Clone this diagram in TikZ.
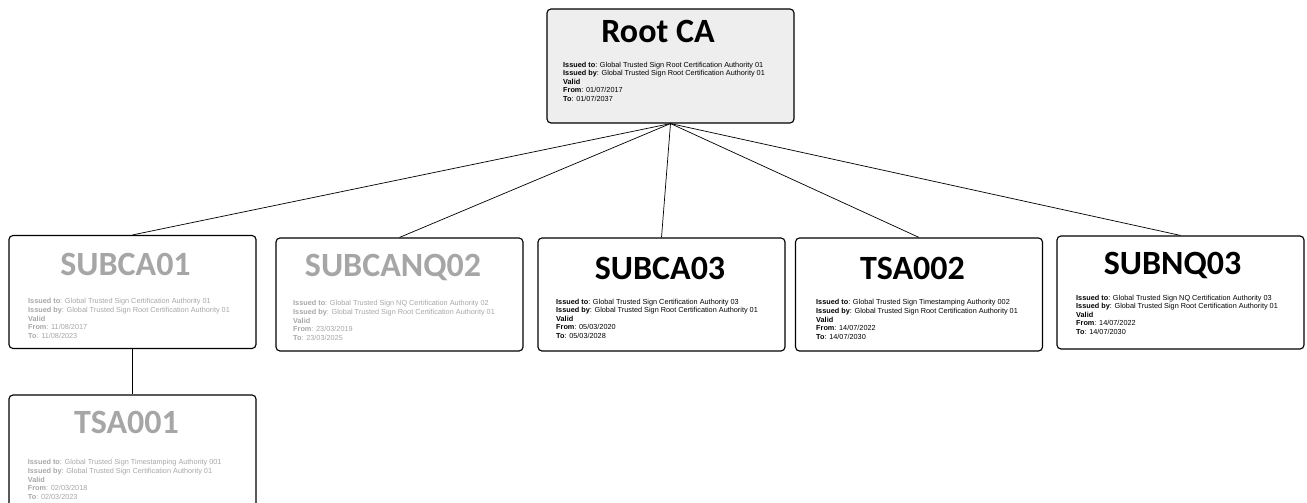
\documentclass[tikz,border=0pt]{standalone}
\usepackage{fontspec}
\setmainfont{Liberation Sans}
\newfontfamily\titlefont{Carlito}
\usetikzlibrary{positioning}
\definecolor{faded}{HTML}{A6A6A6}
\definecolor{rootfill}{HTML}{EEEEEE}

\begin{document}
\begin{tikzpicture}[x=1pt,y=-1pt,
	certbox/.style={draw, rounded corners=4pt, line width=0.4mm, minimum width=247pt, minimum height=113pt, inner sep=0pt},
	certtitle/.style={anchor=base, inner sep=0pt, font=\titlefont\bfseries\fontsize{34}{34}\selectfont},
	certinfo/.style={anchor=north west, align=left, inner sep=0pt, font=\fontsize{7.3}{8.6}\selectfont},
	oldcert/.style={text=faded},
	link/.style={line width=0.25mm}]
	\useasboundingbox (0,0) rectangle (1307,503);
	\clip (0,0) rectangle (1307,503);
	
	% boxes
	\node[certbox, fill=rootfill, minimum height=114pt] (root) at (670.5,66) {};
	\node[certbox] (subca01) at (132.5,292) {};
	\node[certbox] (subcanq02) at (399.5,294.5) {};
	\node[certbox] (subca03) at (661.5,294.5) {};
	\node[certbox] (tsa002) at (919,294.5) {};
	\node[certbox] (subnq03) at (1180.5,292.5) {};
	\node[certbox] (tsa001) at (132.5,451.5) {};
	
	% links
	\draw[link] (root.south) -- (subca01.north);
	\draw[link] (root.south) -- (subcanq02.north);
	\draw[link] (root.south) -- (subca03.north);
	\draw[link] (root.south) -- (tsa002.north);
	\draw[link] (root.south) -- (subnq03.north);
	\draw[link] (subca01.south) -- (tsa001.north);
	
	% titles
	\node[certtitle] (root-title) at (658,43) {Root CA};
	\node[certtitle, oldcert] (subca01-title) at (125.5,275) {SUBCA01};
	\node[certtitle, oldcert] (subcanq02-title) at (393,276) {SUBCANQ02};
	\node[certtitle] (subca03-title) at (660,279) {SUBCA03};
	\node[certtitle] (tsa002-title) at (912.5,279) {TSA002};
	\node[certtitle] (subnq03-title) at (1172.5,274) {SUBNQ03};
	\node[certtitle, oldcert] (tsa001-title) at (126.5,433) {TSA001};
	
	% details
	\node[certinfo] (root-info) at (563,61.7) {\textbf{Issued to}: Global Trusted Sign Root Certification Authority 01\\
		\textbf{Issued by}: Global Trusted Sign Root Certification Authority 01\\
		\textbf{Valid}\\
		\textbf{From}: 01/07/2017\\
		\textbf{To}: 01/07/2037};
	\node[certinfo, oldcert] (subca01-info) at (28,298.4) {\textbf{Issued to}: Global Trusted Sign Certification Authority 01\\
		\textbf{Issued by}: Global Trusted Sign Root Certification Authority 01\\
		\textbf{Valid}\\
		\textbf{From}: 11/08/2017\\
		\textbf{To}: 11/08/2023};
	\node[certinfo, oldcert] (subcanq02-info) at (293,300.4) {\textbf{Issued to}: Global Trusted Sign NQ Certification Authority 02\\
		\textbf{Issued by}: Global Trusted Sign Root Certification Authority 01\\
		\textbf{Valid}\\
		\textbf{From}: 23/03/2019\\
		\textbf{To}: 23/03/2025};
	\node[certinfo] (subca03-info) at (556,298.7) {\textbf{Issued to}: Global Trusted Sign Certification Authority 03\\
		\textbf{Issued by}: Global Trusted Sign Root Certification Authority 01\\
		\textbf{Valid}\\
		\textbf{From}: 05/03/2020\\
		\textbf{To}: 05/03/2028};
	\node[certinfo] (tsa002-info) at (816,299.4) {\textbf{Issued to}: Global Trusted Sign Timestamping Authority 002\\
		\textbf{Issued by}: Global Trusted Sign Root Certification Authority 01\\
		\textbf{Valid}\\
		\textbf{From}: 14/07/2022\\
		\textbf{To}: 14/07/2030};
	\node[certinfo] (subnq03-info) at (1076,294.7) {\textbf{Issued to}: Global Trusted Sign NQ Certification Authority 03\\
		\textbf{Issued by}: Global Trusted Sign Root Certification Authority 01\\
		\textbf{Valid}\\
		\textbf{From}: 14/07/2022\\
		\textbf{To}: 14/07/2030};
	\node[certinfo, oldcert] (tsa001-info) at (27.7,459.4) {\textbf{Issued to}: Global Trusted Sign Timestamping Authority 001\\
		\textbf{Issued by}: Global Trusted Sign Certification Authority 01\\
		\textbf{Valid}\\
		\textbf{From}: 02/03/2018\\
		\textbf{To}: 02/03/2023};
\end{tikzpicture}
\end{document}
